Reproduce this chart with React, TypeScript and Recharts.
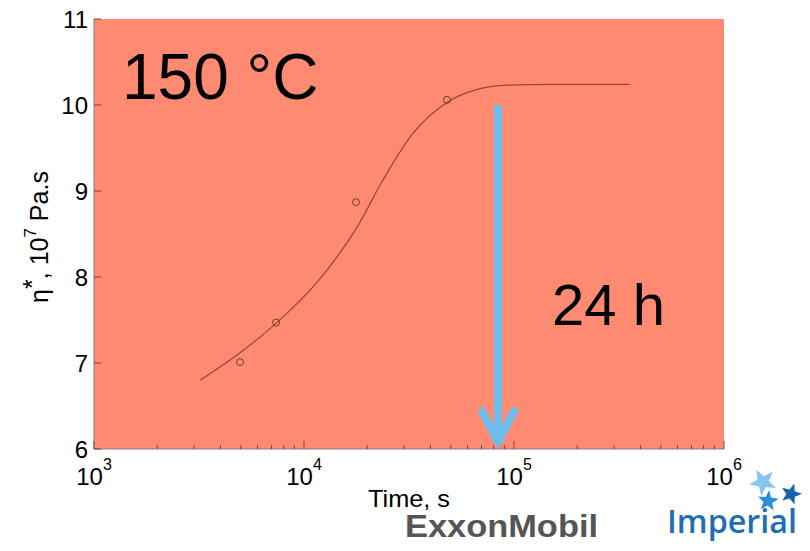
import React from 'react';
import { ComposedChart, Line, Scatter, XAxis, YAxis, CartesianGrid, ReferenceLine } from 'recharts';

// fitted curve
const curveTime = [3200, 4960, 7430, 12300, 17900, 23800, 33000, 48000, 68900, 92600, 150000, 356000];
const curveEta = [6.8, 7.12, 7.47, 8.02, 8.58, 9.13, 9.67, 10.03, 10.19, 10.23, 10.24, 10.24];

// measured points
const pointTime = [4960, 7360, 17700, 48000];
const pointEta = [7.01, 7.47, 8.87, 10.06];

// 24 h marker
const arrowTime = 84000;
const arrowFrom = 10.0;
const arrowTo = 6.08;

const xTicks = [
  1e3, 2e3, 3e3, 4e3, 5e3, 6e3, 7e3, 8e3, 9e3,
  1e4, 2e4, 3e4, 4e4, 5e4, 6e4, 7e4, 8e4, 9e4,
  1e5, 2e5, 3e5, 4e5, 5e5, 6e5, 7e5, 8e5, 9e5,
  1e6,
];
const yTicks = [6, 7, 8, 9, 10, 11];

const curveData = curveTime.map((t, i) => ({ t, eta: curveEta[i] }));
const pointData = pointTime.map((t, i) => ({ t, eta: pointEta[i] }));

const FONT = '"Liberation Sans", Arial, sans-serif';
const TICK = '#7a4438';
const FRAME = '#808080';
const BG = '#fe8a72';

const isMajor = (v: number) => {
  const e = Math.log10(v);
  return Math.abs(e - Math.round(e)) < 1e-6;
};

const BottomTick = (props: any) => {
  const { x, y, payload } = props;
  const major = isMajor(payload.value);
  return (
    <g>
      <line x1={x} x2={x} y1={y} y2={y - (major ? 8 : 4)} stroke={TICK} strokeWidth={1} />
      {major && (
        <text x={x} y={y + 36} textAnchor="middle" fontSize={24} fontFamily={FONT} fill="#000">
          10
          <tspan dy={-15} fontSize={16}>{Math.round(Math.log10(payload.value))}</tspan>
        </text>
      )}
    </g>
  );
};

const TopTick = (props: any) => {
  const { x, y, payload } = props;
  const major = isMajor(payload.value);
  return <line x1={x} x2={x} y1={y} y2={y + (major ? 8 : 4)} stroke={TICK} strokeWidth={1} />;
};

const LeftTick = (props: any) => {
  const { x, y, payload } = props;
  return (
    <g>
      <line x1={x} x2={x + 7} y1={y} y2={y} stroke={TICK} strokeWidth={1} />
      <text x={x - 6} y={y + 8.5} textAnchor="end" fontSize={24} fontFamily={FONT} fill="#000">
        {payload.value}
      </text>
    </g>
  );
};

const RightTick = (props: any) => {
  const { x, y } = props;
  return <line x1={x} x2={x - 7} y1={y} y2={y} stroke={TICK} strokeWidth={1} />;
};

const Arrow = (props: any) => {
  const { x1, y1, x2, y2 } = props;
  const c = '#6dbdec';
  return (
    <g>
      <line x1={x1} y1={y1} x2={x2} y2={y2 - 3} stroke={c} strokeWidth={8} />
      <line x1={x2 - 16} y1={y2 - 31} x2={x2} y2={y2} stroke={c} strokeWidth={8} strokeLinecap="round" />
      <line x1={x2 + 16} y1={y2 - 31} x2={x2} y2={y2} stroke={c} strokeWidth={8} strokeLinecap="round" />
    </g>
  );
};

const Ring = (props: any) => (
  <circle cx={props.cx} cy={props.cy} r={3.5} fill="none" stroke="#7a3a30" strokeWidth={1} />
);

const star = (cx: number, cy: number, r: number, rot: number) => {
  const pts: string[] = [];
  for (let i = 0; i < 10; i++) {
    const rr = i % 2 === 0 ? r : r * 0.42;
    const a = rot + (i * Math.PI) / 5 - Math.PI / 2;
    pts.push(`${(cx + rr * Math.cos(a)).toFixed(1)},${(cy + rr * Math.sin(a)).toFixed(1)}`);
  }
  return pts.join(' ');
};

export default function App() {
  return (
    <div style={{ position: 'absolute', left: 0, top: 0, width: 810, height: 551, background: '#fff' }}>
      <ComposedChart width={810} height={551} margin={{ top: 19, right: 86, bottom: 62, left: 34 }}>
        <CartesianGrid fill={BG} fillOpacity={1} horizontal={false} vertical={false} />
        <XAxis
          xAxisId="b"
          dataKey="t"
          type="number"
          scale="log"
          domain={[1000, 1000000]}
          allowDataOverflow
          ticks={xTicks}
          interval={0}
          height={40}
          tickSize={0}
          tickMargin={0}
          tickLine={false}
          axisLine={{ stroke: FRAME }}
          tick={<BottomTick />}
        />
        <XAxis
          xAxisId="t"
          orientation="top"
          dataKey="t"
          type="number"
          scale="log"
          domain={[1000, 1000000]}
          allowDataOverflow
          ticks={xTicks}
          interval={0}
          height={0}
          tickSize={0}
          tickMargin={0}
          tickLine={false}
          axisLine={{ stroke: FRAME }}
          tick={<TopTick />}
        />
        <YAxis
          yAxisId="l"
          type="number"
          domain={[6, 11]}
          ticks={yTicks}
          interval={0}
          width={60}
          tickSize={0}
          tickMargin={0}
          tickLine={false}
          axisLine={{ stroke: FRAME }}
          tick={<LeftTick />}
        />
        <YAxis
          yAxisId="r"
          orientation="right"
          type="number"
          domain={[6, 11]}
          ticks={yTicks}
          interval={0}
          width={0}
          tickSize={0}
          tickMargin={0}
          tickLine={false}
          axisLine={{ stroke: FRAME }}
          tick={<RightTick />}
        />
        <Line
          xAxisId="b"
          yAxisId="l"
          data={curveData}
          dataKey="eta"
          type="monotone"
          stroke="#9a4434"
          strokeWidth={1.2}
          dot={false}
          activeDot={false}
          isAnimationActive={false}
        />
        <Scatter
          xAxisId="b"
          yAxisId="l"
          data={pointData}
          dataKey="eta"
          shape={<Ring />}
          isAnimationActive={false}
        />
        <ReferenceLine
          xAxisId="b"
          yAxisId="l"
          segment={[{ x: arrowTime, y: arrowFrom }, { x: arrowTime, y: arrowTo }]}
          shape={<Arrow />}
        />
      </ComposedChart>
      <svg
        width={810}
        height={551}
        style={{ position: 'absolute', left: 0, top: 0, pointerEvents: 'none' }}
      >
        <text x={122} y={99} fontSize={64} fontFamily={FONT} fill="#000">150 °C</text>
        <text x={552} y={325} fontSize={58} fontFamily={FONT} fill="#000">24 h</text>
        <text
          x={48}
          y={237}
          transform="rotate(-90, 48, 237)"
          textAnchor="middle"
          fontSize={25}
          fontFamily={FONT}
          fill="#000"
        >
          η<tspan dy={-7}>*</tspan>
          <tspan dy={7}>, 10</tspan>
          <tspan dy={-12} fontSize={17}>7</tspan>
          <tspan dy={12}> Pa.s</tspan>
        </text>
        <text
          x={409}
          y={507}
          textAnchor="middle"
          fontSize={24}
          fontFamily={FONT}
          fill="#000"
          textLength={82}
          lengthAdjust="spacingAndGlyphs"
        >
          Time, s
        </text>
        <text
          x={405}
          y={537}
          fontSize={31}
          fontWeight="bold"
          fontFamily={FONT}
          fill="#555555"
          textLength={193}
          lengthAdjust="spacingAndGlyphs"
        >
          ExxonMobil
        </text>
        <text
          x={667}
          y={533}
          fontSize={32}
          fontWeight={600}
          fontFamily='"Open Sans", "Liberation Sans", sans-serif'
          fill="#1f6db5"
          textLength={130}
          lengthAdjust="spacingAndGlyphs"
        >
          Imperial
        </text>
        <polygon points={star(763, 482, 14, -0.5)} fill="#86c6ec" />
        <polygon points={star(768, 501, 11, 0.1)} fill="#2a8fd6" />
        <polygon points={star(791, 494, 11, 0.3)} fill="#1b5ea9" />
      </svg>
    </div>
  );
}
